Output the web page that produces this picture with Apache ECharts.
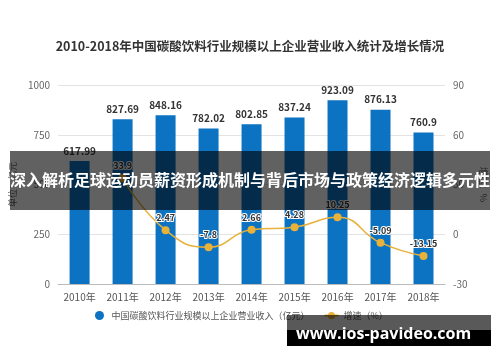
<!DOCTYPE html>
<html><head><meta charset="utf-8">
<script src="https://cdn.jsdelivr.net/npm/echarts@6/dist/echarts.min.js"></script>
<style>html,body{margin:0;padding:0;background:#fff}#c{width:500px;height:362px}</style>
</head><body><div id="c"></div>
<script>
const titleText = '2010-2018年中国碳酸饮料行业规模以上企业营业收入统计及增长情况';
const categories = ['2010年','2011年','2012年','2013年','2014年','2015年','2016年','2017年','2018年'];
const revenue = [617.99, 827.69, 848.16, 782.02, 802.85, 837.24, 923.09, 876.13, 760.9];
const growth = [null, 33.9, 2.47, -7.8, 2.66, 4.28, 10.25, -5.09, -13.15];
const revenueName = '中国碳酸饮料行业规模以上企业营业收入（亿元）';
const growthName = '增速（%）';
const leftAxisName = '单位：亿元';
const rightAxisName = '增速：%';
const bannerText = '深入解析足球运动员薪资形成机制与背后市场与政策经济逻辑多元性';
const siteText = 'www.ios-pavideo.com';

const chart = echarts.init(document.getElementById('c'));
const font = '"Noto Sans CJK SC", "Noto Sans", sans-serif';
chart.setOption({
  animation: false,
  textStyle: { fontFamily: font },
  title: { text: titleText, left: 'center', top: 35,
    textStyle: { fontSize: 12.5, fontWeight: 'bold', color: '#333', fontFamily: font } },
  grid: { left: 55, right: 55, top: 85, bottom: 78 },
  legend: { bottom: 37, left: 90, itemGap: 14, itemWidth: 14, itemHeight: 9,
    textStyle: { fontSize: 9, color: '#555' },
    data: [{ name: revenueName, icon: 'circle' }, { name: growthName }] },
  xAxis: { type: 'category', data: categories,
    axisLine: { lineStyle: { color: '#bbb' } }, axisTick: { show: false },
    axisLabel: { color: '#555', fontSize: 10, margin: 8 } },
  yAxis: [
    { type: 'value', min: 0, max: 1000, interval: 250, name: leftAxisName,
      nameLocation: 'middle', nameGap: 34, nameRotate: 90,
      nameTextStyle: { color: '#666', fontSize: 9 },
      axisLine: { show: false }, axisTick: { show: false },
      axisLabel: { color: '#666', fontSize: 10, formatter: v => String(v) },
      splitLine: { lineStyle: { color: '#e3e3e3' } } },
    { type: 'value', min: -30, max: 90, interval: 30, name: rightAxisName,
      nameLocation: 'middle', nameGap: 30, nameRotate: -90,
      nameTextStyle: { color: '#666', fontSize: 9 },
      axisLine: { show: false }, axisTick: { show: false },
      axisLabel: { color: '#666', fontSize: 10 },
      splitLine: { show: false } }
  ],
  series: [
    { name: revenueName, type: 'bar', data: revenue, barWidth: 20,
      itemStyle: { color: '#0c72c2' },
      label: { show: true, position: 'top', color: '#333', fontSize: 10, fontWeight: 'bold', distance: 5 } },
    { name: growthName, type: 'line', yAxisIndex: 1, data: growth, smooth: true,
      symbol: 'circle', symbolSize: 8,
      lineStyle: { color: '#e8b13a', width: 1.5 }, itemStyle: { color: '#e8b13a' },
      label: { show: true, position: 'top', color: '#333', fontSize: 9, fontWeight: 'bold',
        textBorderColor: '#fff', textBorderWidth: 2, distance: 4 } }
  ],
  graphic: [
    { type: 'rect', left: 10, top: 151, shape: { width: 480, height: 59 },
      style: { fill: 'rgba(0,0,0,0.62)' }, z: 100 },
    { type: 'text', left: 'center', top: 172,
      style: { text: bannerText, fill: '#fff', fontSize: 16, fontWeight: 'bold', fontFamily: font }, z: 101 },
    { type: 'rect', left: 287, top: 315, shape: { width: 204, height: 15 },
      style: { fill: 'rgba(0,0,0,0.65)' }, z: 100 },
    { type: 'rect', left: 287, top: 330, shape: { width: 204, height: 16 },
      style: { fill: '#000' }, z: 100 },
    { type: 'text', left: 296, top: 326,
      style: { text: siteText, fill: '#fff', fontSize: 16, fontWeight: 'bold', fontFamily: '"Open Sans", "Liberation Sans", sans-serif' }, z: 101 }
  ]
});
</script></body></html>
